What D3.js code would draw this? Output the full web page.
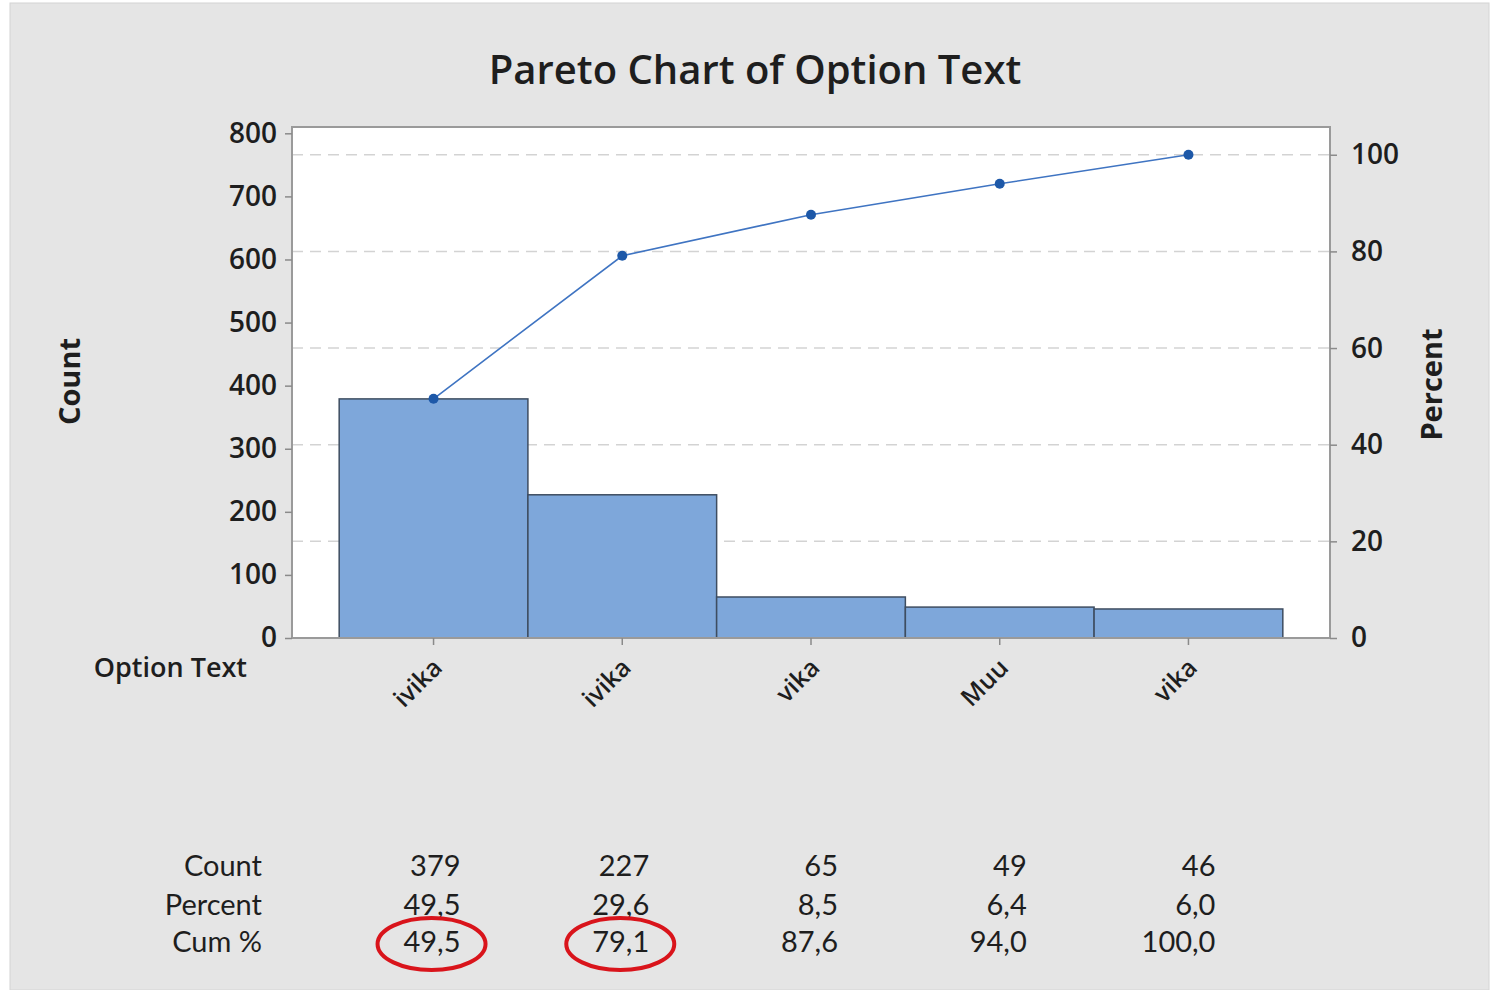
<!DOCTYPE html>
<html>
<head>
<meta charset="utf-8">
<script src="https://d3js.org/d3.v7.min.js"></script>
<style>
body { margin: 0; background: #fff; }
svg text { fill: #1e1e1e; }
</style>
</head>
<body>
<svg id="chart"></svg>
<script>
// chart data
var categories = ["ivika", "ivika", "vika", "Muu", "vika"];
var counts = [379, 227, 65, 49, 46];
var percents = ["49,5", "29,6", "8,5", "6,4", "6,0"];
var cumPercents = [49.5, 79.1, 87.6, 94.0, 100.0];
var cumLabels = ["49,5", "79,1", "87,6", "94,0", "100,0"];
var countTicks = [0, 100, 200, 300, 400, 500, 600, 700, 800];
var percentTicks = [0, 20, 40, 60, 80, 100];
var circled = [0, 1]; // red rings drawn round these Cum % cells

var W = 1491, H = 990;
var plotL = 292, plotR = 1330, plotT = 127, plotB = 638;
var total = d3.sum(counts);
var font = "'Open Sans', 'Noto Sans', sans-serif";
var tableFont = "Lato, 'Open Sans', sans-serif";

var svg = d3.select("#chart").attr("width", W).attr("height", H);

// gray panel
svg.append("rect")
    .attr("x", 10).attr("y", 3).attr("width", W - 12).attr("height", H - 3)
    .attr("fill", "#e5e5e5").attr("stroke", "#d4d4d4");

var x = d3.scaleBand().domain(d3.range(categories.length))
    .range([plotL, plotR]).paddingInner(0).paddingOuter(0.25);
var y = d3.scaleLinear().domain([0, 810]).range([plotB, plotT]);
var yp = d3.scaleLinear().domain([0, 100]).range([plotB, y(total)]);

// plot area
svg.append("rect")
    .attr("x", plotL).attr("y", plotT).attr("width", plotR - plotL).attr("height", plotB - plotT)
    .attr("fill", "#fff");

// dashed gridlines at percent ticks
svg.append("g").selectAll("line")
    .data(percentTicks.filter(function(d) { return d > 0; }))
    .enter().append("line")
    .attr("x1", plotL).attr("x2", plotR)
    .attr("y1", function(d) { return yp(d); })
    .attr("y2", function(d) { return yp(d); })
    .attr("stroke", "#d3d3d3").attr("stroke-width", 1.5)
    .attr("stroke-dasharray", "11,7");

// bars
svg.append("g").selectAll("rect")
    .data(counts)
    .enter().append("rect")
    .attr("x", function(d, i) { return x(i); })
    .attr("y", function(d) { return y(d); })
    .attr("width", x.bandwidth())
    .attr("height", function(d) { return y(0) - y(d); })
    .attr("fill", "#7ea7da")
    .attr("stroke", "#3e4d60").attr("stroke-width", 1.5);

// frame
svg.append("rect")
    .attr("x", plotL).attr("y", plotT).attr("width", plotR - plotL).attr("height", plotB - plotT)
    .attr("fill", "none").attr("stroke", "#9a9a9a").attr("stroke-width", 2);

// cumulative line
var line = d3.line()
    .x(function(d, i) { return x(i) + x.bandwidth() / 2; })
    .y(function(d) { return yp(d); });
svg.append("path")
    .datum(cumPercents)
    .attr("d", line)
    .attr("fill", "none").attr("stroke", "#3f74c2").attr("stroke-width", 1.6);
svg.append("g").selectAll("circle")
    .data(cumPercents)
    .enter().append("circle")
    .attr("cx", function(d, i) { return x(i) + x.bandwidth() / 2; })
    .attr("cy", function(d) { return yp(d); })
    .attr("r", 5)
    .attr("fill", "#1d58a8");

// axes
var axisStyle = function(g) {
    g.select(".domain").remove();
    g.selectAll(".tick line").attr("stroke", "#8a8a8a").attr("stroke-width", 1.5);
    g.selectAll(".tick text").attr("fill", "#222")
        .style("font-family", font).style("font-size", "28px").style("font-weight", 600);
};
svg.append("g")
    .attr("transform", "translate(" + plotL + ",0)")
    .call(d3.axisLeft(y).tickValues(countTicks).tickSize(7).tickPadding(8))
    .call(axisStyle);
svg.append("g")
    .attr("transform", "translate(" + plotR + ",0)")
    .call(d3.axisRight(yp).tickValues(percentTicks).tickSize(7).tickPadding(14))
    .call(axisStyle);
var xAxis = svg.append("g")
    .attr("transform", "translate(0," + plotB + ")")
    .call(d3.axisBottom(x).tickSize(7).tickFormat(""));
xAxis.select(".domain").remove();
xAxis.selectAll(".tick line").attr("stroke", "#8a8a8a").attr("stroke-width", 1.5);

// category labels, rotated
svg.append("g").selectAll("text")
    .data(categories)
    .enter().append("text")
    .attr("transform", function(d, i) {
        return "translate(" + (x(i) + x.bandwidth() / 2 + 4) + "," + (plotB + 25) + ") rotate(-45)";
    })
    .attr("text-anchor", "end")
    .attr("dy", "0.35em")
    .style("font-family", font).style("font-size", "25px").style("font-weight", 600)
    .text(function(d) { return d; });

// titles
svg.append("text")
    .attr("x", 755).attr("y", 84)
    .attr("text-anchor", "middle")
    .style("font-family", font).style("font-size", "40px").style("font-weight", 600)
    .text("Pareto Chart of Option Text");
svg.append("text")
    .attr("transform", "translate(80," + ((plotT + plotB) / 2 - 1) + ") rotate(-90)")
    .attr("text-anchor", "middle")
    .style("font-family", font).style("font-size", "29px").style("font-weight", 700)
    .text("Count");
svg.append("text")
    .attr("transform", "translate(1442," + ((plotT + plotB) / 2 + 2) + ") rotate(-90)")
    .attr("text-anchor", "middle")
    .style("font-family", font).style("font-size", "29px").style("font-weight", 700)
    .text("Percent");
svg.append("text")
    .attr("x", 247).attr("y", 677)
    .attr("text-anchor", "end")
    .style("font-family", font).style("font-size", "27px").style("font-weight", 600)
    .text("Option Text");

// table under the chart
var rows = [
    { label: "Count", y: 876, values: counts.map(String) },
    { label: "Percent", y: 915, values: percents },
    { label: "Cum %", y: 952, values: cumLabels }
];
var table = svg.append("g")
    .style("font-family", tableFont).style("font-size", "29px");
rows.forEach(function(r) {
    table.append("text")
        .attr("x", 262).attr("y", r.y)
        .attr("text-anchor", "end")
        .text(r.label);
    table.selectAll(null)
        .data(r.values)
        .enter().append("text")
        .attr("x", function(d, i) { return x(i) + x.bandwidth() / 2 + 27; })
        .attr("y", r.y)
        .attr("text-anchor", "end")
        .text(function(d) { return d; });
});

// red rings
svg.append("g").selectAll("ellipse")
    .data(circled)
    .enter().append("ellipse")
    .attr("cx", function(i) { return x(i) + x.bandwidth() / 2 - 2; })
    .attr("cy", 944)
    .attr("rx", 54).attr("ry", 26)
    .attr("fill", "none").attr("stroke", "#d9141b").attr("stroke-width", 4);
</script>
</body>
</html>
